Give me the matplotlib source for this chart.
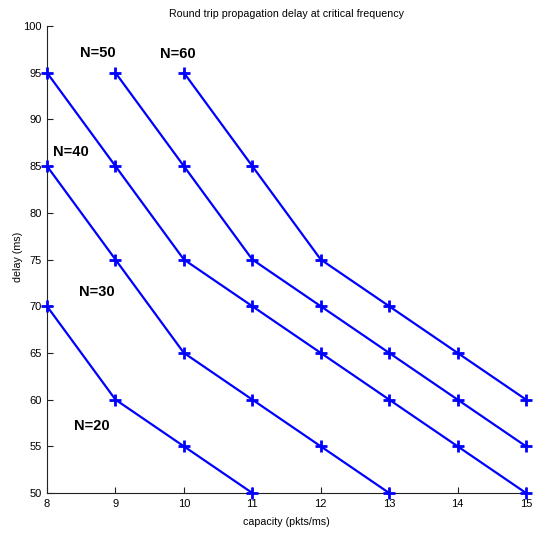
import matplotlib
matplotlib.use('Agg')
import matplotlib.pyplot as plt

plt.rcParams['font.family'] = ['Liberation Sans', 'DejaVu Sans']

# 데이터
cap_20 = [8, 9, 10, 11]
delay_20 = [70, 60, 55, 50]
cap_30 = [8, 9, 10, 11, 12, 13]
delay_30 = [85, 75, 65, 60, 55, 50]
cap_40 = [8, 9, 10, 11, 12, 13, 14, 15]
delay_40 = [95, 85, 75, 70, 65, 60, 55, 50]
cap_50 = [9, 10, 11, 12, 13, 14, 15]
delay_50 = [95, 85, 75, 70, 65, 60, 55]
cap_60 = [10, 11, 12, 13, 14, 15]
delay_60 = [95, 85, 75, 70, 65, 60]

labels = ['N=20', 'N=30', 'N=40', 'N=50', 'N=60']
label_x = [8.65, 8.73, 8.35, 8.74, 9.91]
label_y = [57.2, 71.5, 86.5, 97.1, 97.0]

fig = plt.figure(figsize=(5.33, 5.35), dpi=100)
ax = fig.add_axes([47/533, 1 - 493/535, 479/533, 467/535])

for cx, dy in [(cap_20, delay_20), (cap_30, delay_30), (cap_40, delay_40),
               (cap_50, delay_50), (cap_60, delay_60)]:
    ax.plot(cx, dy, color='#0000ff', linewidth=1.6, marker='+',
            markersize=8, markeredgewidth=2, clip_on=False, zorder=3)

for t, x, y in zip(labels, label_x, label_y):
    ax.text(x, y, t, fontsize=10.5, fontweight='bold', ha='center', va='center')

ax.set_xlim(8, 15)
ax.set_ylim(50, 100)
ax.set_xticks(range(8, 16))
ax.set_yticks(range(50, 101, 5))
ax.spines['top'].set_visible(False)
ax.spines['right'].set_visible(False)
ax.spines['left'].set_color('#222222')
ax.spines['bottom'].set_color('#222222')
ax.tick_params(direction='in', length=4, labelsize=8, colors='#222222', pad=4)
ax.tick_params(axis='both', labelcolor='black')

ax.set_title('Round trip propagation delay at critical frequency', fontsize=7.7, pad=6.5)
ax.set_xlabel('capacity (pkts/ms)', fontsize=7.7, labelpad=6)
ax.set_ylabel('delay (ms)', fontsize=7.7, va='center')
ax.yaxis.set_label_coords(-0.06, 0.505)

plt.savefig('out.png', dpi=100)
